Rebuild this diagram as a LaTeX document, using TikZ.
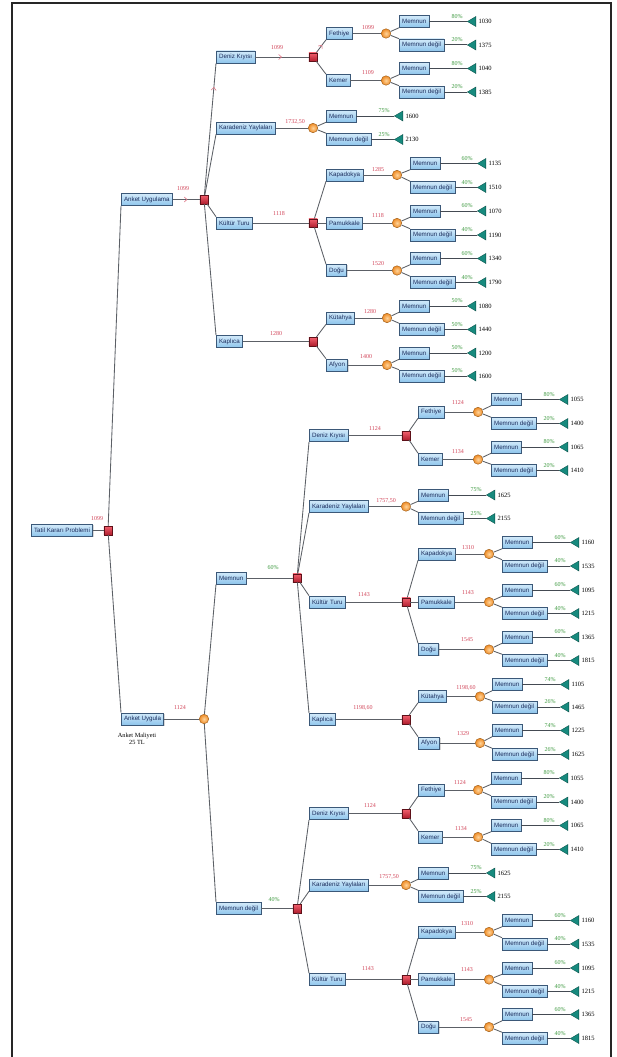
\documentclass[tikz,border=0pt]{standalone}
\usepackage{fontspec}
\setmainfont{Liberation Serif}
\newfontfamily\boxfont{Liberation Sans}
\usetikzlibrary{shapes.geometric,shadows,decorations.markings,arrows.meta}

\definecolor{boxtop}{HTML}{D2EAFA}
\definecolor{boxbot}{HTML}{8EC5EC}
\definecolor{boxdraw}{HTML}{3B5878}
\definecolor{boxtext}{HTML}{1C2C5C}
\definecolor{linec}{HTML}{5C6066}
\definecolor{leafc}{HTML}{444A52}
\definecolor{decA}{HTML}{F2606E}
\definecolor{decB}{HTML}{B01E2E}
\definecolor{decD}{HTML}{5E1018}
\definecolor{chanceL}{HTML}{FFD49A}
\definecolor{chanceC}{HTML}{EE8A24}
\definecolor{chanceD}{HTML}{9A5A14}
\definecolor{termC}{HTML}{178A7E}
\definecolor{termD}{HTML}{0B4F48}
\definecolor{redval}{HTML}{D2465A}
\definecolor{greenval}{HTML}{3E9A40}
\definecolor{pinkc}{HTML}{E07888}

\newcommand\LfX{399}
\newcommand\LtX{473}
\newcommand{\setleaf}[2]{\renewcommand\LfX{#1}\renewcommand\LtX{#2}}
% #1 prefix, #2 parent, #3 y1, #4 p1, #5 v1, #6 y2, #7 p2, #8 v2
\newcommand{\pairleaf}[8]{%
  \node[lbl] (#1m) at (\LfX,#3) {Memnun};
  \node[term] (#1tm) at (\LtX,#3) {};
  \node[gv] (#1pm) at (\LtX-16,#3-5) {#4};
  \node[bv] (#1vm) at (\LtX+5.5,#3) {#5};
  \node[lbl] (#1md) at (\LfX,#6) {Memnun değil};
  \node[term] (#1tmd) at (\LtX,#6) {};
  \node[gv] (#1pmd) at (\LtX-16,#6-5) {#7};
  \node[bv] (#1vmd) at (\LtX+5.5,#6) {#8};
  \draw[conn] (#2) -- (#1m.south west);
  \draw[conn] (#2) -- (#1md.north west);
  \draw[lline] (#1m.east) -- (#1tm);
  \draw[lline] (#1md.east) -- (#1tmd);
}

\tikzset{
 lbl/.style={draw=boxdraw, line width=0.6pt, top color=boxtop, bottom color=boxbot, text=boxtext,
   font=\boxfont\fontsize{6.2}{7}\selectfont, inner xsep=2.8pt, inner ysep=0pt, minimum height=12pt, anchor=west,
   drop shadow={shadow xshift=0.8pt, shadow yshift=-0.8pt, opacity=0.3}},
 decn/.style={rectangle, draw=decD, line width=0.4pt, top color=decA, bottom color=decB, minimum size=8.5pt, inner sep=0pt},
 chn/.style={circle, draw=chanceD, line width=0.4pt, inner color=chanceL, outer color=chanceC, minimum size=9.5pt, inner sep=0pt},
 term/.style={isosceles triangle, isosceles triangle stretches, shape border rotate=180, minimum width=10pt,
   minimum height=8.5pt, inner sep=0pt, fill=termC, draw=termD, line width=0.3pt},
 conn/.style={draw=linec, line width=0.85pt},
 lline/.style={draw=leafc, line width=1pt},
 rv/.style={text=redval, font=\fontsize{6}{6.5}\selectfont, inner sep=0pt},
 gv/.style={text=greenval, font=\fontsize{6}{6.5}\selectfont, inner sep=0pt},
 bv/.style={text=black, font=\fontsize{6.5}{7}\selectfont, inner sep=0pt, anchor=west},
 arrowmid/.style={postaction={decorate}, decoration={markings, mark=at position #1 with
   {\arrow[pinkc, line width=0.6pt]{Straight Barb[length=2.8pt,width=5pt]}}}},
}

\begin{document}
\begin{tikzpicture}[x=1pt,y=-1pt]
\useasboundingbox (0,0) rectangle (616,1057);
\fill[white] (0,0) rectangle (616,1057);
\draw[line width=1.2pt, black!85] (12,1057) -- (12,3) -- (611,3) -- (611,1057);

% root
\node[lbl] (root) at (31,530.5) {Tatil Kararı Problemi};
\node[decn] (d0) at (108,530.5) {};
\draw[conn] (root.east) -- (d0);
\node[rv] (v0) at (97,519) {1099};

% Anket Uygulama
\node[lbl] (au) at (121,199.5) {Anket Uygulama};
\draw[conn] (d0) -- (au.south west);
\node[decn] (d1) at (204,199.5) {};
\draw[conn, arrowmid=0.55] (au.east) -- (d1);
\node[rv] (v1) at (183,189) {1099};

% Deniz Kiyisi (top)
\node[lbl] (t1) at (216,57) {Deniz Kıyısı};
\draw[conn, arrowmid=0.82] (d1) -- (t1.south west);
\node[decn] (t1d) at (313,57) {};
\draw[conn, arrowmid=0.5] (t1.east) -- (t1d);
\node[rv] (vt1) at (277,48) {1099};
\node[lbl] (t1a) at (326,33.5) {Fethiye};
\draw[conn, arrowmid=0.6] (t1d) -- (t1a.south west);
\node[chn] (t1ac) at (386,33.5) {};
\draw[conn] (t1a.east) -- (t1ac);
\node[rv] (vt1a) at (368,28) {1099};
\setleaf{399}{473}
\pairleaf{t1a}{t1ac}{21.5}{80\%}{1030}{45}{20\%}{1375}
\node[lbl] (t1b) at (326,80.5) {Kemer};
\draw[conn] (t1d) -- (t1b.north west);
\node[chn] (t1bc) at (386,80.5) {};
\draw[conn] (t1b.east) -- (t1bc);
\node[rv] (vt1b) at (368,73) {1109};
\pairleaf{t1b}{t1bc}{68.5}{80\%}{1040}{92}{20\%}{1385}

% Karadeniz (top)
\node[lbl] (t2) at (216,128) {Karadeniz Yaylaları};
\draw[conn] (d1) -- (t2.south west);
\node[chn] (t2c) at (313,128) {};
\draw[conn] (t2.east) -- (t2c);
\node[rv] (vt2) at (295,122) {1732,50};
\setleaf{326}{400}
\pairleaf{t2}{t2c}{116}{75\%}{1600}{139.5}{25\%}{2130}

% Kultur Turu (top)
\node[lbl] (t3) at (216,223) {Kültür Turu};
\draw[conn] (d1) -- (t3.north west);
\node[decn] (t3d) at (313,223) {};
\draw[conn] (t3.east) -- (t3d);
\node[rv] (vt3) at (279,214) {1118};
\node[lbl] (t3a) at (326,175) {Kapadokya};
\draw[conn] (t3d) -- (t3a.south west);
\node[chn] (t3ac) at (397,175) {};
\draw[conn] (t3a.east) -- (t3ac);
\node[rv] (vt3a) at (378,170) {1285};
\setleaf{410}{483}
\pairleaf{t3a}{t3ac}{163.5}{60\%}{1135}{187.5}{40\%}{1510}
\node[lbl] (t3b) at (326,223) {Pamukkale};
\draw[conn] (t3d) -- (t3b.west);
\node[chn] (t3bc) at (397,223) {};
\draw[conn] (t3b.east) -- (t3bc);
\node[rv] (vt3b) at (378,216) {1118};
\pairleaf{t3b}{t3bc}{211}{60\%}{1070}{235}{40\%}{1190}
\node[lbl] (t3c) at (326,270.5) {Doğu};
\draw[conn] (t3d) -- (t3c.north west);
\node[chn] (t3cc) at (397,270.5) {};
\draw[conn] (t3c.east) -- (t3cc);
\node[rv] (vt3c) at (378,264) {1520};
\pairleaf{t3c}{t3cc}{258.5}{60\%}{1340}{282.5}{40\%}{1790}

% Kaplica (top)
\node[lbl] (t4) at (216,341.5) {Kaplıca};
\draw[conn] (d1) -- (t4.north west);
\node[decn] (t4d) at (313,341.5) {};
\draw[conn] (t4.east) -- (t4d);
\node[rv] (vt4) at (276,334) {1280};
\node[lbl] (t4a) at (326,318) {Kütahya};
\draw[conn] (t4d) -- (t4a.south west);
\node[chn] (t4ac) at (387,318) {};
\draw[conn] (t4a.east) -- (t4ac);
\node[rv] (vt4a) at (370,312) {1280};
\setleaf{399}{473}
\pairleaf{t4a}{t4ac}{306}{50\%}{1080}{329.5}{50\%}{1440}
\node[lbl] (t4b) at (326,365) {Afyon};
\draw[conn] (t4d) -- (t4b.north west);
\node[chn] (t4bc) at (387,365) {};
\draw[conn] (t4b.east) -- (t4bc);
\node[rv] (vt4b) at (366,357) {1400};
\pairleaf{t4b}{t4bc}{353}{50\%}{1200}{376}{50\%}{1600}

% Anket Uygula
\node[lbl] (ay) at (121,719) {Anket Uygula};
\draw[conn] (d0) -- (ay.north west);
\node[chn] (c1) at (204,719) {};
\draw[conn] (ay.east) -- (c1);
\node[rv] (vay) at (180,708) {1124};
\node[font=\fontsize{6.3}{6.8}\selectfont, align=center, inner sep=0pt] (cost) at (137,738.5) {Anket Maliyeti\\25 TL};

\node[lbl] (m) at (216,578) {Memnun};
\draw[conn] (c1) -- (m.south west);
\node[gv] (pm) at (273,568) {60\%};
\node[decn] (m0) at (297,578) {};
\draw[conn] (m.east) -- (m0);

\node[lbl] (n) at (216,908.5) {Memnun değil};
\draw[conn] (c1) -- (n.north west);
\node[gv] (pn) at (274,900) {40\%};
\node[decn] (n0) at (297,908.5) {};
\draw[conn] (n.east) -- (n0);

% ---- Memnun subtree
\node[lbl] (ma1) at (309,435.5) {Deniz Kıyısı};
\draw[conn] (m0) -- (ma1.south west);
\node[decn] (ma1d) at (406,435.5) {};
\draw[conn] (ma1.east) -- (ma1d);
\node[rv] (vma1) at (375,429) {1124};
\node[lbl] (ma1a) at (418,412) {Fethiye};
\draw[conn] (ma1d) -- (ma1a.south west);
\node[chn] (ma1ac) at (478,412) {};
\draw[conn] (ma1a.east) -- (ma1ac);
\node[rv] (vma1a) at (458,403) {1124};
\setleaf{491}{565}
\pairleaf{ma1a}{ma1ac}{399.5}{80\%}{1055}{423.5}{20\%}{1400}
\node[lbl] (ma1b) at (418,459.5) {Kemer};
\draw[conn] (ma1d) -- (ma1b.north west);
\node[chn] (ma1bc) at (478,459.5) {};
\draw[conn] (ma1b.east) -- (ma1bc);
\node[rv] (vma1b) at (458,452) {1134};
\pairleaf{ma1b}{ma1bc}{447}{80\%}{1065}{470.5}{20\%}{1410}

\node[lbl] (ma2) at (309,506.5) {Karadeniz Yaylaları};
\draw[conn] (m0) -- (ma2.south west);
\node[chn] (ma2c) at (406,506.5) {};
\draw[conn] (ma2.east) -- (ma2c);
\node[rv] (vma2) at (386,501) {1757,50};
\setleaf{418}{492}
\pairleaf{ma2}{ma2c}{495}{75\%}{1625}{518.5}{25\%}{2155}

\node[lbl] (ma3) at (309,602) {Kültür Turu};
\draw[conn] (m0) -- (ma3.north west);
\node[decn] (ma3d) at (406,602) {};
\draw[conn] (ma3.east) -- (ma3d);
\node[rv] (vma3) at (364,595) {1143};
\node[lbl] (ma3a) at (418,554) {Kapadokya};
\draw[conn] (ma3d) -- (ma3a.south west);
\node[chn] (ma3ac) at (489,554) {};
\draw[conn] (ma3a.east) -- (ma3ac);
\node[rv] (vma3a) at (468,548) {1310};
\setleaf{502}{576}
\pairleaf{ma3a}{ma3ac}{542.5}{60\%}{1160}{566}{40\%}{1535}
\node[lbl] (ma3b) at (418,602) {Pamukkale};
\draw[conn] (ma3d) -- (ma3b.west);
\node[chn] (ma3bc) at (489,602) {};
\draw[conn] (ma3b.east) -- (ma3bc);
\node[rv] (vma3b) at (468,593) {1143};
\pairleaf{ma3b}{ma3bc}{590}{60\%}{1095}{613.5}{40\%}{1215}
\node[lbl] (ma3c) at (418,649.5) {Doğu};
\draw[conn] (ma3d) -- (ma3c.north west);
\node[chn] (ma3cc) at (489,649.5) {};
\draw[conn] (ma3c.east) -- (ma3cc);
\node[rv] (vma3c) at (467,640) {1545};
\pairleaf{ma3c}{ma3cc}{637}{60\%}{1365}{660.5}{40\%}{1815}

\node[lbl] (ma4) at (309,719.5) {Kaplıca};
\draw[conn] (m0) -- (ma4.north west);
\node[decn] (ma4d) at (406,719.5) {};
\draw[conn] (ma4.east) -- (ma4d);
\node[rv] (vma4) at (363,708) {1198,60};
\node[lbl] (ma4a) at (418,696.5) {Kütahya};
\draw[conn] (ma4d) -- (ma4a.south west);
\node[chn] (ma4ac) at (480,696.5) {};
\draw[conn] (ma4a.east) -- (ma4ac);
\node[rv] (vma4a) at (466,688) {1198,60};
\setleaf{492}{566}
\pairleaf{ma4a}{ma4ac}{684.5}{74\%}{1105}{707}{26\%}{1465}
\node[lbl] (ma4b) at (418,743) {Afyon};
\draw[conn] (ma4d) -- (ma4b.north west);
\node[chn] (ma4bc) at (480,743) {};
\draw[conn] (ma4b.east) -- (ma4bc);
\node[rv] (vma4b) at (463,734) {1329};
\pairleaf{ma4b}{ma4bc}{730.5}{74\%}{1225}{754.5}{26\%}{1625}

% ---- Memnun degil subtree
\node[lbl] (na1) at (309,813.5) {Deniz Kıyısı};
\draw[conn] (n0) -- (na1.south west);
\node[decn] (na1d) at (406,813.5) {};
\draw[conn] (na1.east) -- (na1d);
\node[rv] (vna1) at (370,806) {1124};
\node[lbl] (na1a) at (418,790) {Fethiye};
\draw[conn] (na1d) -- (na1a.south west);
\node[chn] (na1ac) at (478,790) {};
\draw[conn] (na1a.east) -- (na1ac);
\node[rv] (vna1a) at (460,783) {1124};
\setleaf{491}{565}
\pairleaf{na1a}{na1ac}{778}{80\%}{1055}{802}{20\%}{1400}
\node[lbl] (na1b) at (418,837) {Kemer};
\draw[conn] (na1d) -- (na1b.north west);
\node[chn] (na1bc) at (478,837) {};
\draw[conn] (na1b.east) -- (na1bc);
\node[rv] (vna1b) at (461,829) {1134};
\pairleaf{na1b}{na1bc}{825.5}{80\%}{1065}{849.5}{20\%}{1410}

\node[lbl] (na2) at (309,885) {Karadeniz Yaylaları};
\draw[conn] (n0) -- (na2.south west);
\node[chn] (na2c) at (406,885) {};
\draw[conn] (na2.east) -- (na2c);
\node[rv] (vna2) at (389,877) {1757,50};
\setleaf{418}{492}
\pairleaf{na2}{na2c}{873}{75\%}{1625}{896.5}{25\%}{2155}

\node[lbl] (na3) at (309,979.5) {Kültür Turu};
\draw[conn] (n0) -- (na3.north west);
\node[decn] (na3d) at (406,979.5) {};
\draw[conn] (na3.east) -- (na3d);
\node[rv] (vna3) at (368,969) {1143};
\node[lbl] (na3a) at (418,932) {Kapadokya};
\draw[conn] (na3d) -- (na3a.south west);
\node[chn] (na3ac) at (489,932) {};
\draw[conn] (na3a.east) -- (na3ac);
\node[rv] (vna3a) at (467,924) {1310};
\setleaf{502}{576}
\pairleaf{na3a}{na3ac}{920.5}{60\%}{1160}{944}{40\%}{1535}
\node[lbl] (na3b) at (418,979.5) {Pamukkale};
\draw[conn] (na3d) -- (na3b.west);
\node[chn] (na3bc) at (489,979.5) {};
\draw[conn] (na3b.east) -- (na3bc);
\node[rv] (vna3b) at (467,970) {1143};
\pairleaf{na3b}{na3bc}{968}{60\%}{1095}{991.5}{40\%}{1215}
\node[lbl] (na3c) at (418,1027) {Doğu};
\draw[conn] (na3d) -- (na3c.north west);
\node[chn] (na3cc) at (489,1027) {};
\draw[conn] (na3c.east) -- (na3cc);
\node[rv] (vna3c) at (466,1020) {1545};
\pairleaf{na3c}{na3cc}{1014.5}{60\%}{1365}{1038.5}{40\%}{1815}
\end{tikzpicture}
\end{document}
